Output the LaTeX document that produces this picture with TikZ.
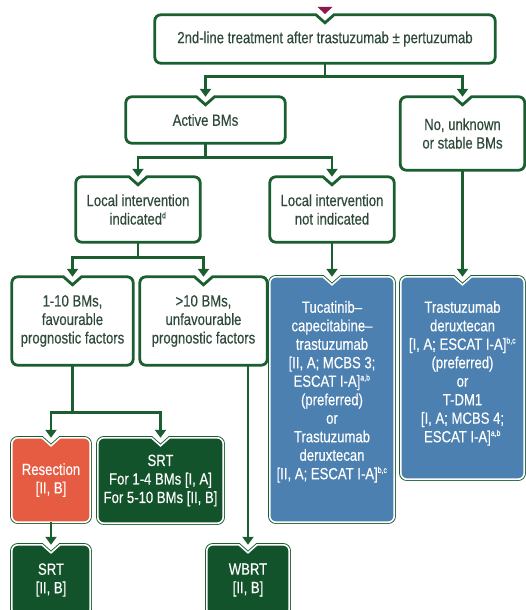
\documentclass[tikz,border=0pt]{standalone}
\usepackage{fontspec}
\setmainfont{Liberation Sans}[FakeStretch=0.81,FakeBold=0.4]
\usetikzlibrary{arrows.meta,calc,backgrounds}

\definecolor{esmogreen}{HTML}{1B5E30}
\definecolor{esmodark}{HTML}{13532B}
\definecolor{esmoblue}{HTML}{4B80B0}
\definecolor{esmored}{HTML}{E55C43}
\definecolor{esmotext}{HTML}{2F4A3A}
\definecolor{esmomagenta}{HTML}{8B1A4A}

% outline with the arrow notch on top
\newcommand{\notchframe}[2][]{%
  \draw[#1] ($(#2.north)+(0,8)$) -- ($(#2.north)+(-9,0)$) [rounded corners=6pt]
    -- (#2.north west) -- (#2.south west) -- (#2.south east) -- (#2.north east)
    [sharp corners] -- ($(#2.north)+(9,0)$) -- cycle;}
\newcommand{\whiteframe}[1]{\notchframe[draw=esmogreen,fill=white,line width=2.8pt]{#1}}
\newcommand{\solidframe}[2]{%
  \notchframe[draw=esmogreen,line width=3.4pt]{#1}%
  \notchframe[draw=white,fill=#2,line width=1.6pt]{#1}}
\newcommand{\fnote}[1]{\textsuperscript{\fontsize{8.5}{8.5}\selectfont #1}}

\tikzset{
  box/.style={inner sep=0pt, align=center, text=esmotext,
    font=\fontsize{16.2}{18.5}\selectfont},
  solid/.style={box, text=white},
  flow/.style={draw=esmogreen, line width=2.6pt, -{Triangle[width=11pt,length=8pt]}},
}

\begin{document}
\begin{tikzpicture}[x=1pt,y=-1pt]
\useasboundingbox (0,0) rectangle (526,610);

% boxes
\node[box, minimum width=340pt, minimum height=48pt] (second) at (325,39) {2nd-line treatment after trastuzumab ± pertuzumab};
\node[box, minimum width=159pt, minimum height=46pt] (active) at (205.5,120) {Active BMs};
\node[box, minimum width=124pt, minimum height=73pt] (stable) at (462.5,133.5) {No, unknown\\or stable BMs};
\node[box, minimum width=124pt, minimum height=65pt] (locind) at (138,209.5) {Local intervention\\indicated\fnote{d}};
\node[box, minimum width=124pt, minimum height=65pt] (locnot) at (332,209.5) {Local intervention\\not indicated};
\node[box, minimum width=121pt, minimum height=88pt] (few) at (72.5,321) {1-10 BMs,\\favourable\\prognostic factors};
\node[box, minimum width=127pt, minimum height=88pt] (many) at (203.5,321) {>10 BMs,\\unfavourable\\prognostic factors};
\node[solid, minimum width=124pt, minimum height=245pt] (tuca) at (332,399.5) {};
\node[solid, minimum width=123pt, minimum height=202pt] (tdxd) at (462.5,378) {};
\node[solid, minimum width=78pt, minimum height=84pt] (resec) at (51,480) {Resection\\{[}II, B]};
\node[solid, minimum width=125pt, minimum height=85pt] (srt) at (160.5,480.5) {SRT\\For 1-4 BMs [I, A]\\For 5-10 BMs [II, B]};
\node[solid, minimum width=78pt, minimum height=70pt] (srtpost) at (51,580) {SRT\\{[}II, B]};
\node[solid, minimum width=82pt, minimum height=70pt] (wbrt) at (248,580) {WBRT\\{[}II, B]};

\node[solid, anchor=north] (tucatext) at ($(tuca.north)+(0,24)$) {Tucatinib--\\capecitabine--\\trastuzumab\\{[}II, A; MCBS 3;\\ESCAT I-A]\fnote{a,b}\\(preferred)\\or\\Trastuzumab\\deruxtecan\\{[}II, A; ESCAT I-A]\fnote{b,c}};
\node[solid, anchor=north] (tdxdtext) at ($(tdxd.north)+(0,24)$) {Trastuzumab\\deruxtecan\\{[}I, A; ESCAT I-A]\fnote{b,c}\\(preferred)\\or\\T-DM1\\{[}I, A; MCBS 4;\\ESCAT I-A]\fnote{a,b}};

\begin{pgfonlayer}{background}
\whiteframe{second}
\whiteframe{active}
\whiteframe{stable}
\whiteframe{locind}
\whiteframe{locnot}
\whiteframe{few}
\whiteframe{many}
\solidframe{tuca}{esmoblue}
\solidframe{tdxd}{esmoblue}
\solidframe{resec}{esmored}
\solidframe{srt}{esmodark}
\solidframe{srtpost}{esmodark}
\solidframe{wbrt}{esmodark}
\end{pgfonlayer}

% incoming tip from above
\fill[esmomagenta] (317.5,7) -- (332.5,7) -- (325,14) -- cycle;

% connectors
\draw[flow] (second.south) -- ++(0,13) -| (active.north);
\draw[flow] (second.south) -- ++(0,13) -| (stable.north);
\draw[flow] (active.south) -- ++(0,14) -| (locind.north);
\draw[flow] (active.south) -- ++(0,14) -| (locnot.north);
\draw[flow] (locind.south) -- ++(0,15) -| (few.north);
\draw[flow] (locind.south) -- ++(0,15) -| (many.north);
\draw[flow] (locnot.south) -- (tuca.north);
\draw[flow] (stable.south) -- (tdxd.north);
\draw[flow] (few.south) -- ++(0,47) -| (resec.north);
\draw[flow] (few.south) -- ++(0,47) -| (srt.north);
\draw[flow] (wbrt.north |- many.south) -- (wbrt.north);
\draw[flow] (resec.south) -- (srtpost.north);

\end{tikzpicture}
\end{document}
